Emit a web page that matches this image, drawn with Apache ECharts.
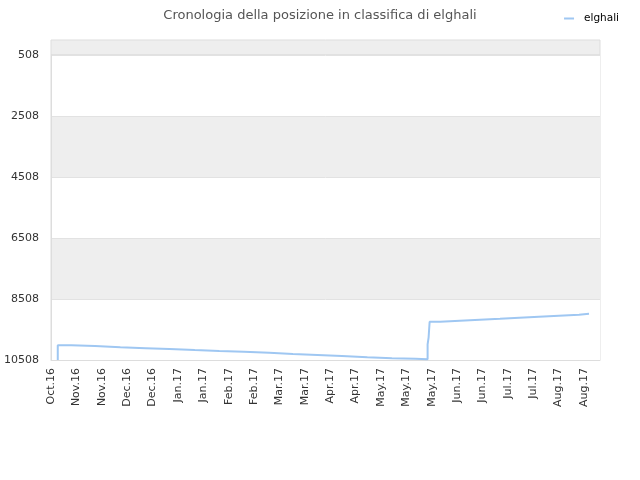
<!DOCTYPE html>
<html>
<head>
<meta charset="utf-8">
<script src="https://cdn.jsdelivr.net/npm/echarts@6/dist/echarts.min.js"></script>
<style>
  html, body { margin: 0; padding: 0; background: #fff; }
  #chart { width: 640px; height: 480px; }
</style>
</head>
<body>
<div id="chart"></div>
<script>
// x labels, one every 15 days starting at the Oct.16 tick
var tickLabels = ['Oct.16', 'Nov.16', 'Nov.16', 'Dec.16', 'Dec.16', 'Jan.17', 'Jan.17',
    'Feb.17', 'Feb.17', 'Mar.17', 'Mar.17', 'Apr.17', 'Apr.17', 'May.17', 'May.17',
    'May.17', 'Jun.17', 'Jun.17', 'Jul.17', 'Jul.17', 'Aug.17', 'Aug.17'];

// days since first tick, and rank at that day (step line)
var days = [4, 4, 12, 26, 41, 56, 70, 85, 99.5, 114, 129, 143, 157.5, 172, 187,
    201.5, 215.5, 222.6, 223.2, 223.8, 230, 241.7, 253.5, 265.4, 276.8, 288.4,
    300.2, 312.1, 318];
var ranks = [10508, 10026, 10049, 10088, 10121, 10151, 10183, 10213, 10236, 10269,
    10311, 10344, 10377, 10419, 10452, 10470, 10485, 9993, 9764, 9252, 9219,
    9187, 9154, 9121, 9088, 9055, 9023, 8990, 8990];

var dom = document.getElementById('chart');
var myChart = echarts.init(dom, null, { renderer: 'canvas' });

var lineColor = '#9fc7f2';
var seriesData = days.map(function (d, i) { return [d, ranks[i]]; });

var option = {
    animation: false,
    title: {
        text: 'Cronologia della posizione in classifica di elghali',
        left: 'center',
        top: 4,
        textStyle: {
            fontFamily: 'DejaVu Sans',
            fontSize: 13,
            fontWeight: 'normal',
            color: '#555'
        }
    },
    legend: {
        right: 16,
        top: 8,
        icon: 'rect',
        itemWidth: 10,
        itemHeight: 2,
        itemGap: 6,
        textStyle: {
            fontFamily: 'DejaVu Sans',
            fontSize: 10.5,
            color: '#000',
            padding: [0, 0, 0, 5]
        },
        data: ['elghali']
    },
    grid: {
        left: 51,
        right: 40,
        top: 55,
        bottom: 120,
        show: true,
        borderColor: '#dddddd',
        borderWidth: 1
    },
    // strip of the plot above the 508 line
    graphic: [{
        type: 'rect',
        shape: { x: 51, y: 40, width: 549, height: 15 },
        style: { fill: '#eeeeee', stroke: '#dddddd', lineWidth: 1 },
        z: -1
    }],
    xAxis: {
        type: 'value',
        min: 0,
        max: 324.5,
        interval: 15,
        axisLine: { show: true, lineStyle: { color: '#dddddd' } },
        axisTick: { show: false },
        splitLine: { show: false },
        axisLabel: {
            rotate: 90,
            margin: 8,
            showMaxLabel: false,
            fontFamily: 'DejaVu Sans',
            fontSize: 11,
            color: '#333',
            formatter: function (v) {
                var i = Math.round(v / 15);
                return Math.abs(v - i * 15) < 0.01 ? (tickLabels[i] || '') : '';
            }
        }
    },
    yAxis: {
        type: 'value',
        inverse: true,
        min: 508,
        max: 10508,
        interval: 2000,
        axisLine: { show: true, lineStyle: { color: '#dddddd' } },
        axisTick: { show: false },
        axisLabel: {
            margin: 12,
            fontFamily: 'DejaVu Sans',
            fontSize: 11,
            color: '#333',
            formatter: function (v) { return String(v); }
        },
        splitLine: { show: true, lineStyle: { color: '#e2e2e2' } },
        splitArea: { show: true, areaStyle: { color: ['#ffffff', '#eeeeee'] } }
    },
    series: [{
        name: 'elghali',
        type: 'line',
        step: 'end',
        showSymbol: false,
        color: lineColor,
        lineStyle: { width: 2, color: lineColor },
        data: seriesData
    }]
};

myChart.setOption(option);
window.addEventListener('resize', myChart.resize);
</script>
</body>
</html>
